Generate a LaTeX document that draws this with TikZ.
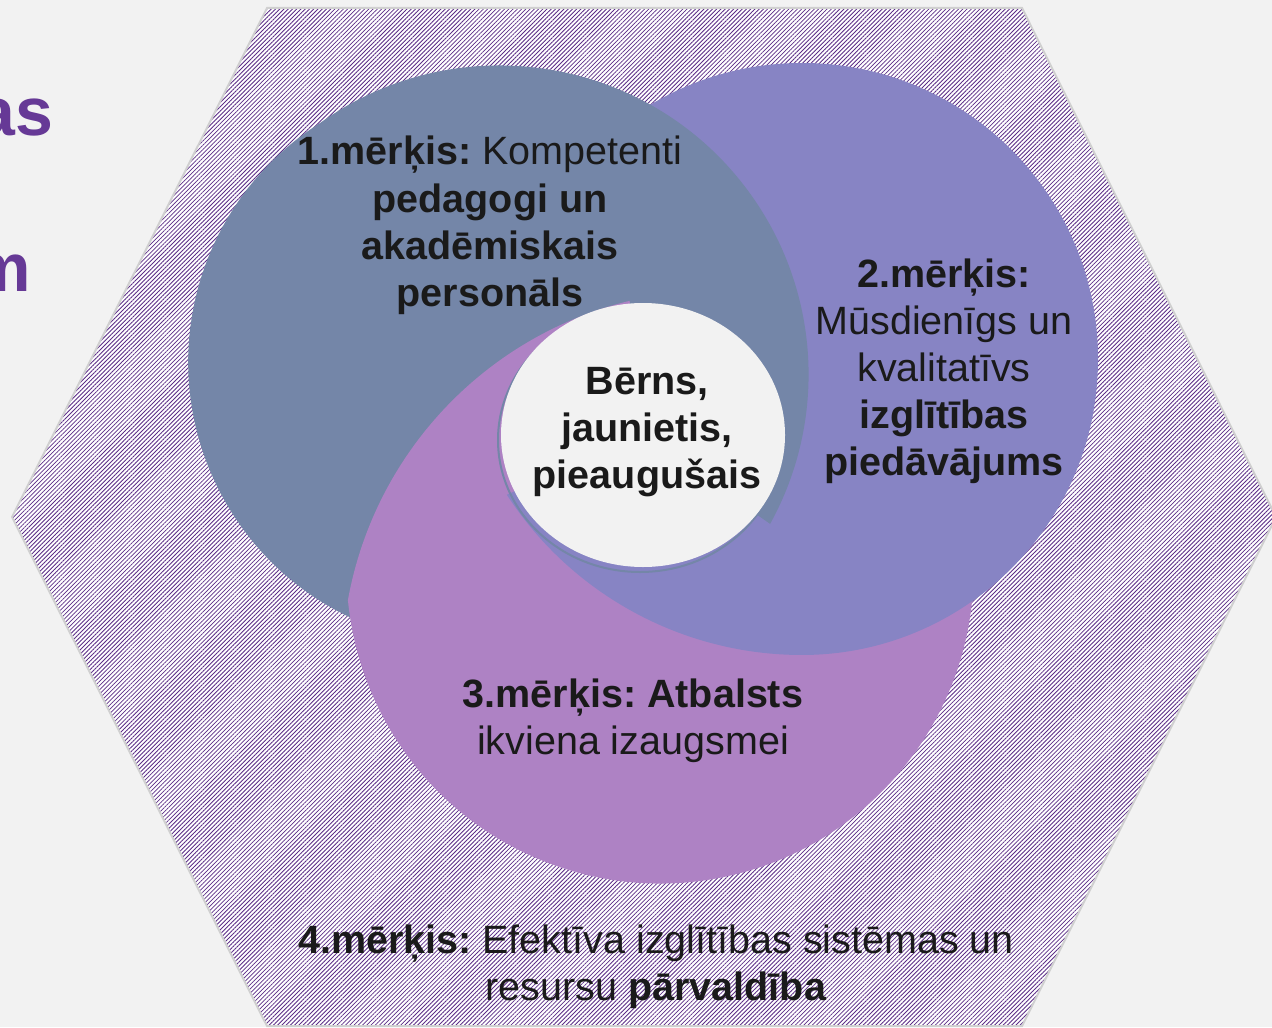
\documentclass[tikz,border=0pt]{standalone}
\usepackage{fontspec}
\setmainfont{Liberation Sans}
\usetikzlibrary{patterns.meta}
\frenchspacing

\definecolor{pagebg}{RGB}{242,242,242}
\definecolor{hatchpurple}{RGB}{92,45,135}
\definecolor{titlepurple}{RGB}{102,57,150}
\definecolor{goalone}{RGB}{116,134,168}
\definecolor{goaltwo}{RGB}{135,132,196}
\definecolor{goalthree}{RGB}{174,130,196}
\definecolor{hexline}{RGB}{208,208,208}
\definecolor{inktext}{RGB}{26,26,26}

\begin{document}
\begin{tikzpicture}[
  x=0.5pt, y=-0.5pt,
  goaltext/.style={align=center, text=inktext, inner sep=0pt,
    font=\fontsize{19.75}{23.5}\selectfont},
  titletext/.style={text=titlepurple, inner sep=0pt,
    font=\fontsize{34}{40}\selectfont\bfseries},
  hexhatch/.style={preaction={fill=white},
    pattern={Lines[angle=45, distance=1.5pt, line width=0.4pt]},
    pattern color=hatchpurple}
]
\useasboundingbox (0,0) rectangle (1272,1027);
\clip (0,0) rectangle (1272,1027);
\fill[pagebg] (0,0) rectangle (1272,1027);

\node[titletext, anchor=base east] (titleas) at (54,136) {as};
\node[titletext, anchor=base east] (titlem) at (31,291) {m};

\path[hexhatch] (267,8) -- (1022,8) -- (1276,517) -- (1022,1026) -- (267,1026) -- (12,517) -- cycle;
\draw[hexline, line width=1pt] (267,8) -- (1022,8) -- (1276,517) -- (1022,1026) -- (267,1026) -- (12,517) -- cycle;

% swirl 2 body, swirl 1, swirl 3, tail of swirl 2
\fill[goaltwo] (802,359) circle [radius=296];
\fill[goalone] (421.6,640)
  arc [start angle=100, end angle=237.8, radius=282.4]
  arc [start angle=234.5, end angle=400, radius=309] -- (643,435) -- cycle;

\fill[goalthree] (643,435) -- (740,600) -- (968.7,515.6)
  arc [start angle=-10, end angle=174.5, radius=313.5]
  arc [start angle=190.24, end angle=256.3, radius=377] -- cycle;

\fill[goaltwo] (643,435) -- (506.8,494.7)
  arc [start angle=147, end angle=90, radius=352]
  arc [start angle=90, end angle=10, radius=296] -- (800,545) -- cycle;

\draw[goalone, line width=1pt] (640,440) ellipse [x radius=142, y radius=132];
\fill[pagebg] (643,435) ellipse [x radius=142, y radius=132];

\node[goaltext, anchor=base] (teachers) at (490,306)
  {\textbf{1.mērķis:} Kompetenti\\ \textbf{pedagogi un}\\ \textbf{akadēmiskais}\\ \textbf{personāls}};
\node[goaltext, anchor=base] (offer) at (944,475)
  {\textbf{2.mērķis:}\\ Mūsdienīgs un\\ kvalitatīvs\\ \textbf{izglītības}\\ \textbf{piedāvājums}};
\node[goaltext, anchor=base, font=\fontsize{19.75}{23.5}\selectfont\bfseries] (learner) at (647,488)
  {Bērns,\\ jaunietis,\\ pieaugušais};
\node[goaltext, anchor=base] (support) at (633,754)
  {\textbf{3.mērķis: Atbalsts}\\ ikviena izaugsmei};
\node[goaltext, anchor=base] (management) at (656,1000)
  {\textbf{4.mērķis:} Efektīva izglītības sistēmas un\\ resursu \textbf{pārvaldība}};

\end{tikzpicture}
\end{document}
